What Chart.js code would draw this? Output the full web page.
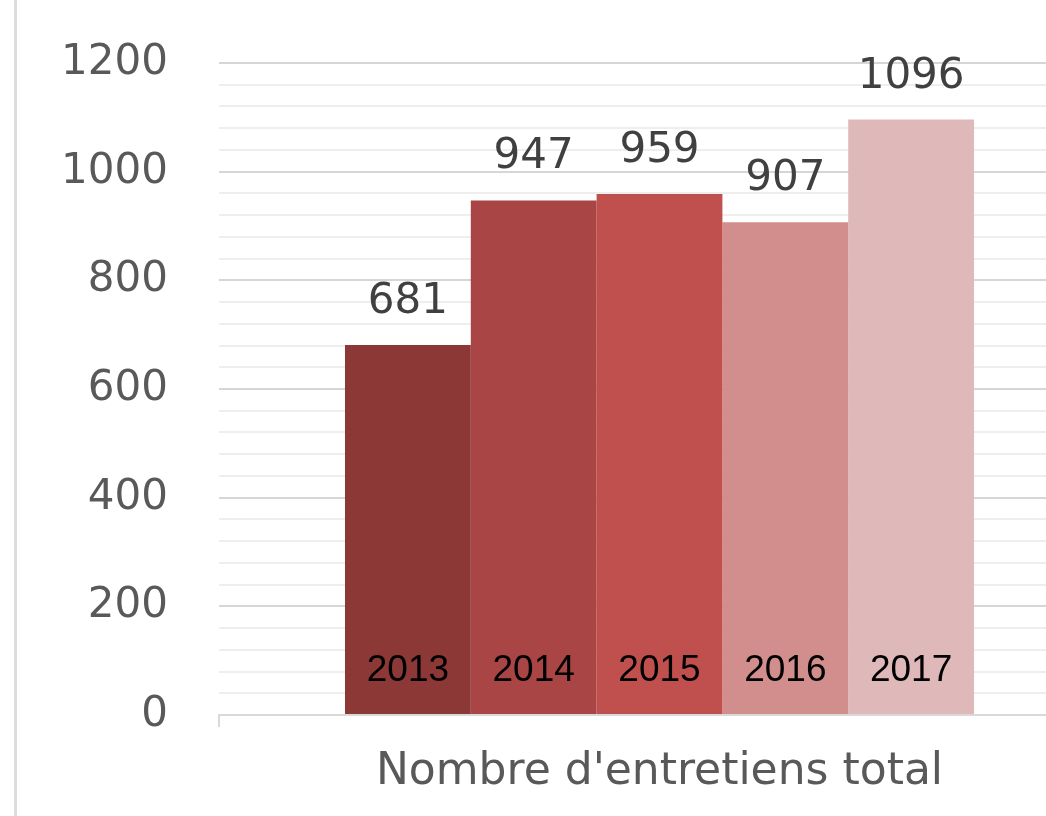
<!DOCTYPE html>
<html>
<head>
<meta charset="utf-8">
<script src="https://cdn.jsdelivr.net/npm/chart.js@4.4.1/dist/chart.umd.min.js"></script>
<style>
  html, body { margin: 0; padding: 0; background: #fff; overflow: hidden; }
  #frame { position: absolute; left: 14px; top: 0; width: 3px; height: 816px; background: #dcdcdc; }
  #wrap { position: absolute; left: 0; top: 0; width: 1100px; height: 816px; }
</style>
</head>
<body>
<div id="wrap"><canvas id="chart"></canvas></div>
<div id="frame"></div>
<script>
// Data
const categories = ["Nombre d'entretiens total"];
const years = ["2013", "2014", "2015", "2016", "2017"];
const values = [681, 947, 959, 907, 1096];
const yMax = 1200;
const majorStep = 200;
const minorStep = 40;

const barColors = ["#8c3836", "#a94544", "#c0504d", "#d18e8c", "#dfb9b9"];

// Value above each bar, year inside the bottom of each bar
const barLabels = {
  id: "barLabels",
  afterDatasetsDraw(chart) {
    const ctx = chart.ctx;
    ctx.save();
    ctx.textAlign = "center";
    ctx.textBaseline = "alphabetic";
    chart.data.datasets.forEach((ds, i) => {
      const bar = chart.getDatasetMeta(i).data[0];
      if (!bar) return;
      ctx.font = "42px 'DejaVu Sans'";
      ctx.fillStyle = "#404040";
      ctx.fillText(String(ds.data[0]), bar.x, bar.y - 32);
      ctx.font = "37px 'Liberation Sans'";
      ctx.fillStyle = "#000";
      ctx.fillText(ds.label, bar.x, bar.base - 33);
    });
    ctx.restore();
  },
};

new Chart(document.getElementById("chart"), {
  type: "bar",
  data: {
    labels: categories,
    datasets: years.map((y, i) => ({
      label: y,
      data: [values[i]],
      backgroundColor: barColors[i],
      barPercentage: 1,
      categoryPercentage: 0.714,
    })),
  },
  options: {
    responsive: true,
    maintainAspectRatio: false,
    animation: false,
    layout: { padding: { top: 63, left: 0, right: 0, bottom: 0 } },
    plugins: {
      legend: { display: false },
      tooltip: { enabled: false },
    },
    scales: {
      x: {
        afterFit: (scale) => { scale.height = 101; },
        border: { color: "#d9d9d9", width: 2 },
        grid: {
          drawOnChartArea: false,
          drawTicks: true,
          tickLength: 12,
          color: "#d9d9d9",
          lineWidth: 2,
        },
        ticks: {
          color: "#595959",
          font: { family: "DejaVu Sans", size: 44 },
          padding: 19,
          maxRotation: 0,
        },
      },
      y: {
        min: 0,
        max: yMax,
        afterFit: (scale) => {
          scale.width = 219;
          scale.paddingTop = 20;
          scale.paddingBottom = 20;
        },
        border: { display: false },
        grid: {
          drawTicks: false,
          lineWidth: 2,
          color: (c) => (c.tick && c.tick.value % majorStep === 0 ? "#d6d6d6" : "#eeeeee"),
        },
        ticks: {
          stepSize: minorStep,
          autoSkip: false,
          padding: 51,
          color: "#595959",
          font: { family: "DejaVu Sans", size: 42 },
          callback: (v) => (v % majorStep === 0 ? v : ""),
        },
      },
    },
  },
  plugins: [barLabels],
});
</script>
</body>
</html>
